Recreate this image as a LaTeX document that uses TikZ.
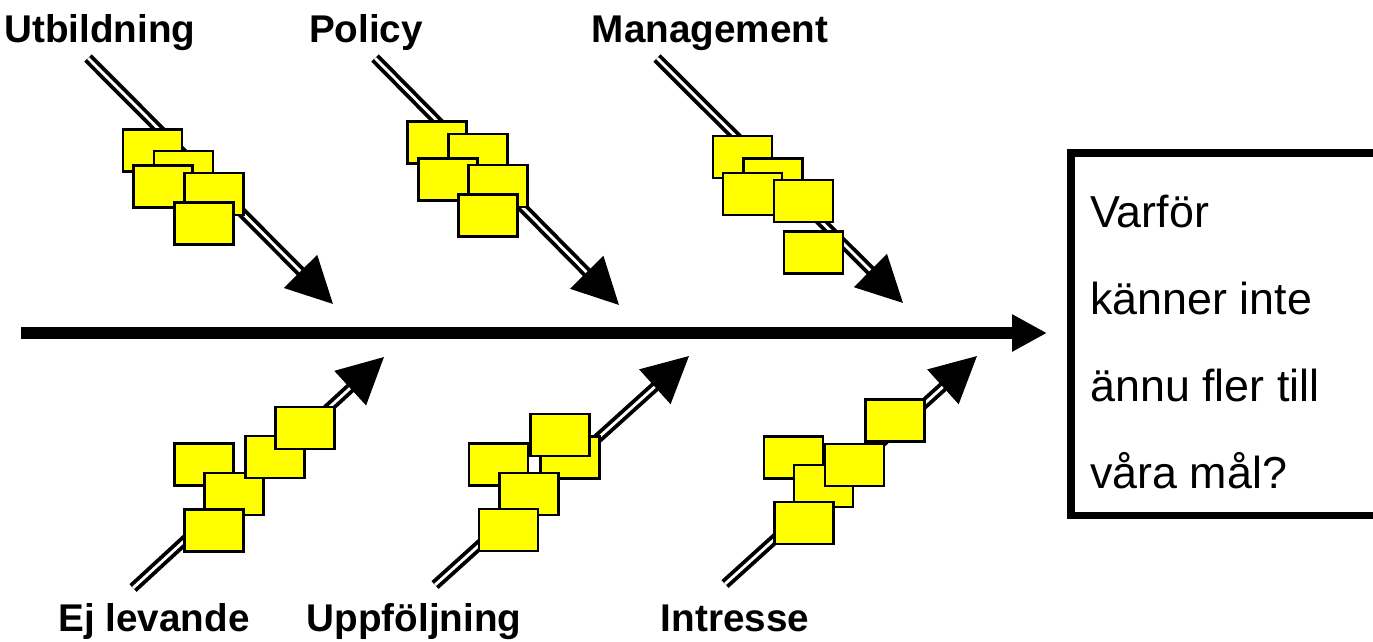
\documentclass[tikz,border=0pt]{standalone}
\usepackage{fontspec}
\setmainfont{Liberation Sans}
\usetikzlibrary{arrows.meta,positioning}
\definecolor{stickyyellow}{RGB}{255,255,0}
\tikzstyle{note} = [rectangle, draw=black, line width=1.3pt, fill=stickyyellow, minimum width=1.18cm, minimum height=0.84cm, inner sep=0pt]
\tikzstyle{cause} = [draw=none, fill=none, anchor=base, inner sep=0pt, font=\bfseries\fontsize{22}{26}\selectfont]
\tikzstyle{bone} = [draw, line width=2.2pt, double=white, double distance=1.6pt, -{Triangle[length=0.92cm, width=0.92cm]}]
\tikzstyle{spine} = [draw, line width=6.8pt, -{Triangle[length=0.7cm, width=0.7cm]}]
\tikzstyle{goal} = [rectangle, draw, line width=4pt, outer sep=0pt, anchor=north west, minimum width=6.58cm, minimum height=7.26cm]
\tikzstyle{question} = [anchor=base west, align=left, inner sep=0pt, font=\fontsize{25.5}{49.5}\selectfont]

\begin{document}
\begin{tikzpicture}[x=0.02cm, y=-0.02cm]
\clip (0,0) rectangle (1373,642);

% effect ================================
\node[goal] (goal) at (1071,153) {};
\node[question] (why) at (1090,488) {Varför\\känner inte\\ännu fler till\\våra mål?};

% spine
\coordinate (tail) at (21,333);
\coordinate (head) at (1047,333);
\path[spine] (tail) -- (head);

% bones
\coordinate (utb-s) at (88,58);   \coordinate (utb-e) at (333,304);
\coordinate (pol-s) at (375,58);  \coordinate (pol-e) at (619,305);
\coordinate (man-s) at (657,58);  \coordinate (man-e) at (903,303);
\coordinate (ej-s)  at (133,588); \coordinate (ej-e)  at (384,357);
\coordinate (upp-s) at (435,585); \coordinate (upp-e) at (689,356);
\coordinate (int-s) at (725,584); \coordinate (int-e) at (977,356);
\path[bone] (utb-s) -- (utb-e);
\path[bone] (pol-s) -- (pol-e);
\path[bone] (man-s) -- (man-e);
\path[bone] (ej-s) -- (ej-e);
\path[bone] (upp-s) -- (upp-e);
\path[bone] (int-s) -- (int-e);

% causes
\node[cause] (utb) at (100,43) {Utbildning};
\node[cause] (pol) at (366,43) {Policy};
\node[cause] (man) at (710,43) {Management};
\node[cause] (ej)  at (154,631) {Ej levande};
\node[cause] (upp) at (414,631) {Uppföljning};
\node[cause] (int) at (735,631) {Intresse};

% notes
\node[note] (utb1) at (152.5,150.5) {};
\node[note] (utb2) at (183.5,172) {};
\node[note] (utb3) at (163,186.5) {};
\node[note] (utb4) at (214,194) {};
\node[note] (utb5) at (204,223.5) {};

\node[note] (pol1) at (437,142.5) {};
\node[note] (pol2) at (478,155) {};
\node[note] (pol3) at (448,179.5) {};
\node[note] (pol4) at (498,186) {};
\node[note] (pol5) at (488,215.5) {};

\node[note] (man1) at (742.5,157) {};
\node[note] (man2) at (773,179.5) {};
\node[note] (man3) at (752.5,194) {};
\node[note] (man4) at (803.5,201) {};
\node[note] (man5) at (813.5,252.5) {};

\node[note] (ej1) at (204,464.5) {};
\node[note] (ej2) at (234,494) {};
\node[note] (ej3) at (275,457) {};
\node[note] (ej4) at (305,428) {};
\node[note] (ej5) at (214,530.5) {};

\node[note] (upp1) at (498.5,464.5) {};
\node[note] (upp2) at (570,457.5) {};
\node[note] (upp3) at (560,435) {};
\node[note] (upp4) at (529,494) {};
\node[note] (upp5) at (508.5,530) {};

\node[note] (int1) at (793.5,457.5) {};
\node[note] (int2) at (823.5,486) {};
\node[note] (int3) at (854.5,465) {};
\node[note] (int4) at (895,420.5) {};
\node[note] (int5) at (804,523) {};

\end{tikzpicture}
\end{document}
